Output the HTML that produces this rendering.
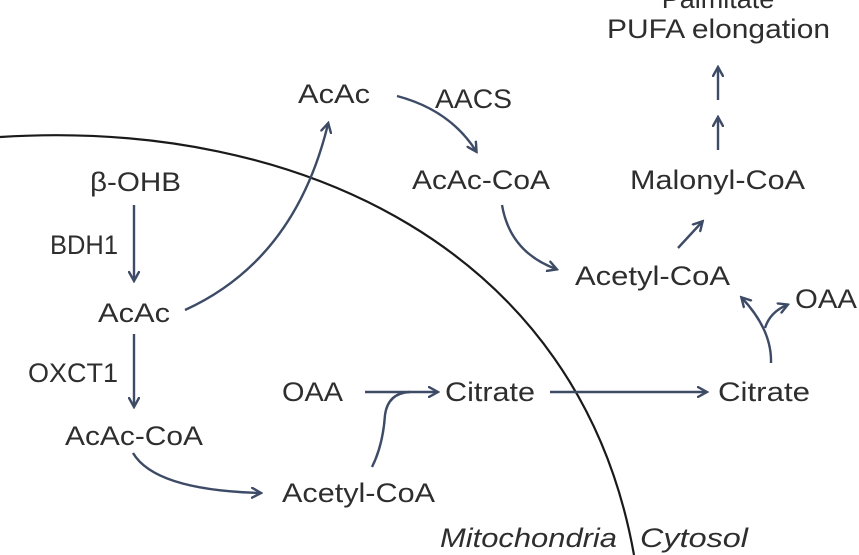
<!DOCTYPE html>
<html><head><meta charset="utf-8"><style>
html,body{margin:0;padding:0;background:#fff}
svg{display:block}
text{font-family:"Liberation Sans",sans-serif;font-size:27px;fill:#2e2e2e}
</style></head><body>
<svg width="859" height="555" viewBox="0 0 859 555" xmlns="http://www.w3.org/2000/svg">
<defs>
<marker id="a" markerWidth="12" markerHeight="12" refX="9" refY="6" orient="auto" markerUnits="userSpaceOnUse">
<path d="M0,0.5 L10,6 L0,11.5" fill="none" stroke="#3d4b66" stroke-width="2.4"/>
</marker>
</defs>
<path d="M0,137 C300,118 580,250 634,555" fill="none" stroke="#1a1a1a" stroke-width="2.2"/>
<g fill="none" stroke="#3d4b66" stroke-width="2.4" marker-end="url(#a)">
<path d="M134,205 L134,280"/>
<path d="M134,334 L134,406"/>
<path d="M185,310 Q295,260 328,124"/>
<path d="M397,96 Q450,110 476,151"/>
<path d="M502,205 Q510,252 556,269"/>
<path d="M678,248 L702,222"/>
<path d="M718,150 L718,118"/>
<path d="M718,100 L718,68"/>
<path d="M771,363 Q772,330 742,298"/>
<path d="M765,328 Q770,312 787,305"/>
<path d="M365,392 L437,392"/>
<path d="M550,392 L706,392"/>
<path d="M133,453 Q155,490 260,493"/>
</g>
<path d="M372,467 Q383,445 385,415 Q388,393 410,392" fill="none" stroke="#3d4b66" stroke-width="2.4"/>
<g lengthAdjust="spacingAndGlyphs">
<text x="718" y="8" text-anchor="middle">Palmitate</text>
<text x="607" y="38" textLength="223" lengthAdjust="spacingAndGlyphs">PUFA elongation</text>
<text x="298" y="103" textLength="72" lengthAdjust="spacingAndGlyphs">AcAc</text>
<text x="435" y="108" textLength="77" lengthAdjust="spacingAndGlyphs">AACS</text>
<text x="412" y="189" textLength="138" lengthAdjust="spacingAndGlyphs">AcAc-CoA</text>
<text x="630" y="189" textLength="175" lengthAdjust="spacingAndGlyphs">Malonyl-CoA</text>
<text x="90" y="191" textLength="91" lengthAdjust="spacingAndGlyphs">β-OHB</text>
<text x="50" y="254" textLength="68" lengthAdjust="spacingAndGlyphs">BDH1</text>
<text x="575" y="285" textLength="155" lengthAdjust="spacingAndGlyphs">Acetyl-CoA</text>
<text x="795" y="308" textLength="62" lengthAdjust="spacingAndGlyphs">OAA</text>
<text x="98" y="322" textLength="72" lengthAdjust="spacingAndGlyphs">AcAc</text>
<text x="28" y="382" textLength="90" lengthAdjust="spacingAndGlyphs">OXCT1</text>
<text x="282" y="401" textLength="61" lengthAdjust="spacingAndGlyphs">OAA</text>
<text x="445" y="401" textLength="90" lengthAdjust="spacingAndGlyphs">Citrate</text>
<text x="718" y="401" textLength="92" lengthAdjust="spacingAndGlyphs">Citrate</text>
<text x="65" y="445" textLength="138" lengthAdjust="spacingAndGlyphs">AcAc-CoA</text>
<text x="282" y="502" textLength="153" lengthAdjust="spacingAndGlyphs">Acetyl-CoA</text>
<text x="440" y="547" font-style="italic" textLength="177" lengthAdjust="spacingAndGlyphs">Mitochondria</text>
<text x="640" y="547" font-style="italic" textLength="108" lengthAdjust="spacingAndGlyphs">Cytosol</text>
</g>
</svg>
</body></html>
